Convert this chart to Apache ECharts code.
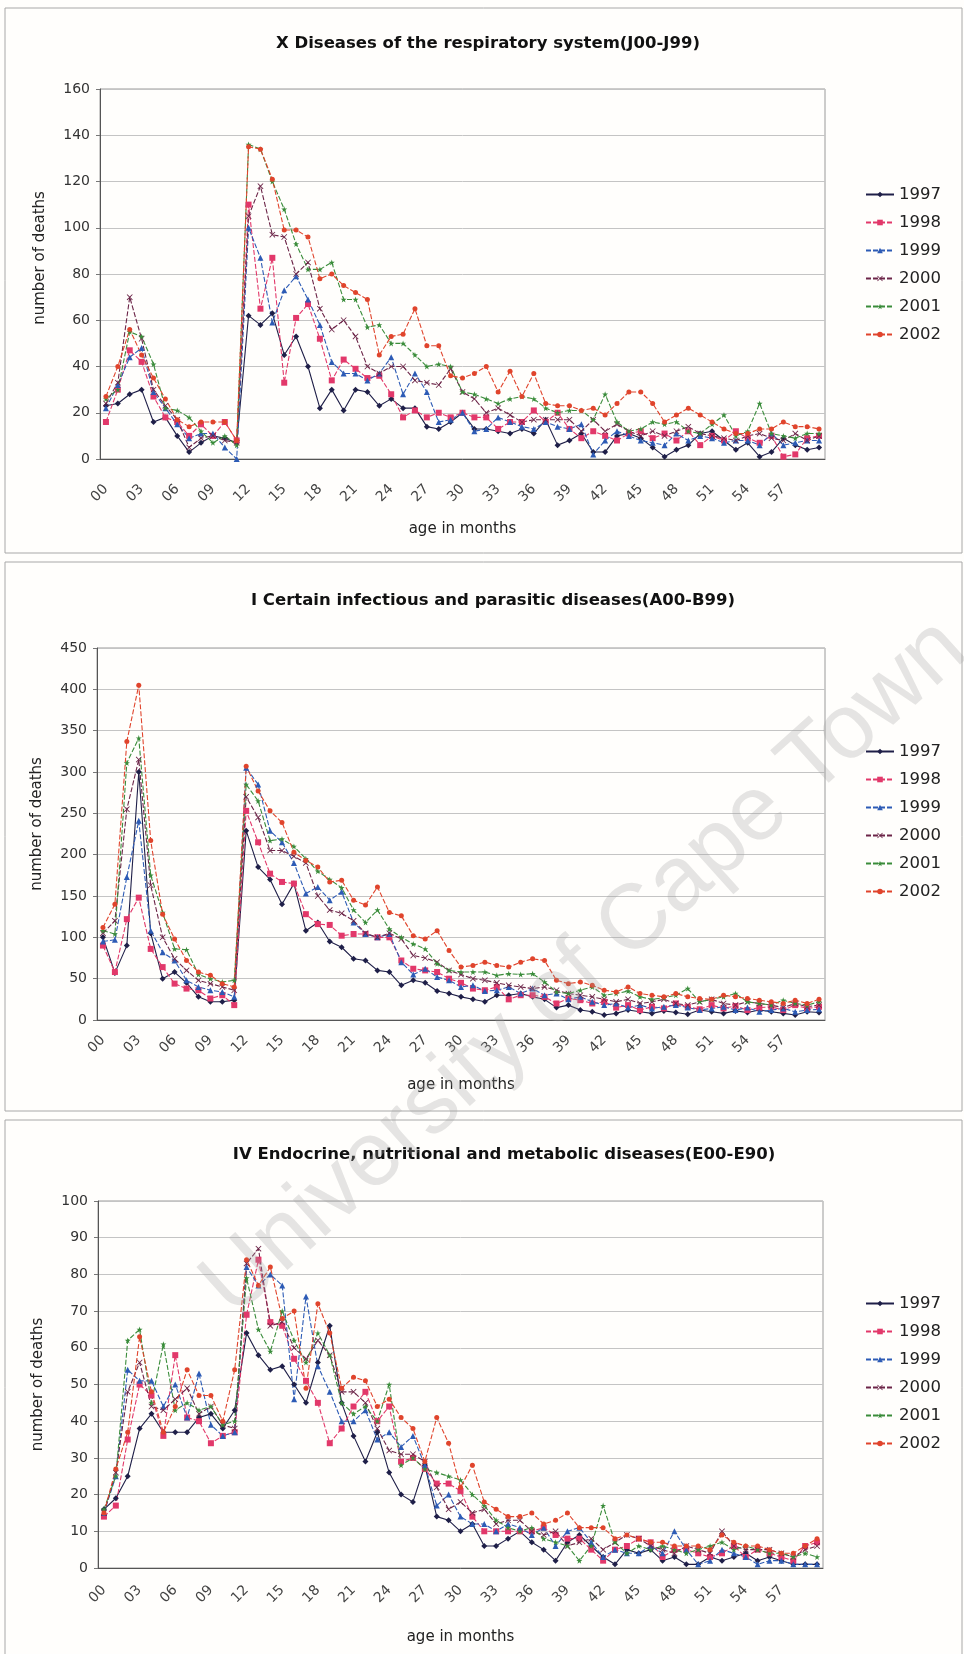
<!DOCTYPE html>
<html lang="en">
<head>
<meta charset="utf-8">
<title>Deaths by age in months</title>
<script src="https://cdn.jsdelivr.net/npm/echarts@6.0.0/dist/echarts.min.js"></script>
</head>
<body style="margin:0;background:#fffefc">
<div id="container" style="width:964px;height:1654px"></div>
<script type="text/javascript">

// age in months (category axis)
var months = ['00','01','02','03','04','05','06','07','08','09','10','11','12','13','14','15','16','17','18','19',
	'20','21','22','23','24','25','26','27','28','29','30','31','32','33','34','35','36','37','38','39',
	'40','41','42','43','44','45','46','47','48','49','50','51','52','53','54','55','56','57','58','59','60'];
var years = ['1997','1998','1999','2000','2001','2002'];

// X Diseases of the respiratory system
var resp1997 = [23,24,28,30,16,18,10,3,7,10,9,7,62,58,63,45,53,40,22,30,21,30,29,23,26,22,22,14,13,16,20,13,13,12,11,13,11,17,6,8,11,3,3,10,11,9,5,1,4,6,11,12,8,4,7,1,3,9,6,4,5];
var resp1998 = [16,30,47,42,27,18,16,10,15,10,16,8,110,65,87,33,61,67,52,34,43,39,35,36,28,18,21,18,20,18,20,18,18,13,16,16,21,16,20,13,9,12,10,8,11,12,9,11,8,12,6,10,8,12,9,7,10,1,2,9,10];
var resp1999 = [22,32,44,48,29,22,15,9,11,11,5,0,100,87,59,73,79,69,58,42,37,37,34,37,44,28,37,29,16,17,20,12,13,18,16,14,13,16,14,13,15,2,8,12,10,8,7,6,11,8,10,9,7,8,8,6,11,6,7,8,8];
var resp2000 = [24,33,70,52,30,23,17,5,9,10,8,7,105,118,97,96,80,85,65,56,60,53,40,37,40,40,34,33,32,39,29,26,20,22,19,16,17,17,17,17,12,17,12,15,12,10,12,10,12,14,11,10,9,8,10,11,9,8,11,8,10];
var resp2001 = [26,30,55,53,41,22,21,18,12,7,10,6,136,134,120,108,93,82,82,85,69,69,57,58,50,50,45,40,41,40,29,28,26,24,26,27,26,22,20,21,21,17,28,16,12,13,16,15,16,12,11,15,19,10,12,24,11,10,9,11,11];
var resp2002 = [27,40,56,45,35,26,17,14,16,16,16,8,135,134,121,99,99,96,78,80,75,72,69,45,53,54,65,49,49,36,35,37,40,29,38,27,37,24,23,23,21,22,19,24,29,29,24,16,19,22,19,16,13,11,11,13,13,16,14,14,13];

// I Certain infectious and parasitic diseases
var inf1997 = [100,57,90,300,105,50,58,45,28,22,22,24,229,185,170,140,165,108,118,95,88,74,72,60,58,42,48,45,35,32,28,25,22,30,30,32,28,25,15,18,12,10,6,8,12,10,8,11,9,7,12,10,8,11,9,12,10,8,6,10,9];
var inf1998 = [90,58,122,148,86,64,44,38,36,26,30,18,253,215,177,167,165,128,116,115,102,104,104,100,100,72,62,60,58,50,45,38,36,40,25,30,30,28,20,26,24,20,22,15,18,12,16,14,20,16,13,18,14,17,12,15,16,12,18,14,16];
var inf1999 = [95,97,173,241,108,82,72,48,40,36,34,28,305,285,229,215,190,153,161,145,155,118,104,100,104,70,55,62,52,48,40,42,35,36,40,32,38,30,32,25,28,22,18,20,15,18,14,16,18,15,12,14,16,12,15,10,12,14,10,12,13];
var inf2000 = [105,120,255,315,163,100,74,60,48,44,40,36,270,245,205,205,198,190,150,133,129,120,105,100,105,98,78,75,70,60,55,50,48,45,42,40,38,40,36,32,30,28,25,22,25,20,22,25,20,18,22,25,20,18,22,20,18,15,20,16,18];
var inf2001 = [108,104,311,341,175,130,86,85,55,50,46,48,285,265,217,219,210,195,180,170,160,133,118,133,110,100,92,86,68,60,58,58,58,54,56,55,56,46,34,32,36,40,30,32,35,28,25,27,30,38,22,25,28,32,22,20,18,24,20,18,22];
var inf2002 = [112,140,337,405,217,128,98,72,58,54,44,40,307,277,253,239,203,193,185,167,169,145,139,161,130,126,102,98,108,84,64,66,70,66,64,70,74,72,48,44,46,42,36,34,40,32,30,28,32,28,26,25,30,28,26,24,22,20,24,20,25];

// IV Endocrine, nutritional and metabolic diseases
var endo1997 = [16,19,25,38,42,37,37,37,41,42,38,43,64,58,54,55,50,45,56,66,45,36,29,37,26,20,18,28,14,13,10,12,6,6,8,10,7,5,2,7,9,6,3,1,5,4,5,2,3,1,1,3,2,3,4,2,3,2,1,1,1];
var endo1998 = [14,17,35,50,47,36,58,41,40,34,36,37,69,84,67,66,57,51,45,34,38,44,48,40,44,29,30,27,23,23,21,14,10,10,10,10,10,11,9,8,8,5,2,5,6,8,7,3,5,5,4,3,4,6,3,5,4,3,2,6,7];
var endo1999 = [15,25,54,51,51,44,50,41,53,39,36,37,82,77,80,77,46,74,55,48,40,40,43,35,37,33,36,28,17,20,14,12,12,10,12,11,9,11,6,10,11,7,3,5,4,4,6,4,10,5,1,2,5,4,3,1,2,2,1,1,1];
var endo2000 = [15,26,48,56,44,43,46,49,42,44,39,38,83,87,66,67,60,57,62,58,48,48,45,38,32,31,31,29,22,16,18,15,16,12,13,13,10,9,10,6,7,8,5,7,9,8,6,5,4,6,5,4,10,6,5,5,5,4,3,5,6];
var endo2001 = [16,25,62,65,45,61,43,45,43,44,39,40,79,65,59,70,62,56,64,58,45,42,44,40,50,28,30,27,26,25,24,20,17,13,11,10,11,8,7,6,2,6,17,7,4,6,5,6,5,4,5,6,7,5,6,5,4,4,3,4,3];
var endo2002 = [15,27,37,63,48,37,44,54,47,47,40,54,84,77,82,68,70,49,72,64,49,52,51,44,46,41,38,29,41,34,22,28,18,16,14,14,15,12,13,15,11,11,11,8,9,8,7,7,6,6,6,5,9,7,6,6,5,4,4,6,8];

var titles = ['X Diseases of the respiratory system(J00-J99)',
	'I Certain infectious and parasitic diseases(A00-B99)',
	'IV Endocrine, nutritional and metabolic diseases(E00-E90)'];
var chartData = [
	[resp1997, resp1998, resp1999, resp2000, resp2001, resp2002],
	[inf1997, inf1998, inf1999, inf2000, inf2001, inf2002],
	[endo1997, endo1998, endo1999, endo2000, endo2001, endo2002]
];

// layout of the three panels (pixels)
var layout = [
	{left: 100, top: 89, width: 725, height: 370, max: 160, step: 20, titleX: 483, titleY: 30, legendTop: 181,
		labelMargin: 28, nameGap: 63, yShift: 32, box: [5, 8, 957, 545]},
	{left: 97, top: 648, width: 728, height: 372, max: 450, step: 50, titleX: 488, titleY: 587, legendTop: 738,
		labelMargin: 18, nameGap: 58, yShift: 20, box: [5, 562, 957, 549]},
	{left: 98, top: 1201, width: 725, height: 367, max: 100, step: 10, titleX: 499, titleY: 1141, legendTop: 1290,
		labelMargin: 20, nameGap: 62, yShift: 0, box: [5, 1120, 957, 560]}
];

var colors = ['#1f1f48', '#e2386a', '#2d5bb5', '#6c2548', '#3a8c3a', '#e0442c'];
var symbols = ['diamond', 'rect', 'triangle',
	'path://M0,1L1,0L5,4L9,0L10,1L6,5L10,9L9,10L5,6L1,10L0,9L4,5Z',
	'path://M5,0L6.2,3.8L10,3.8L7,6.2L8.1,10L5,7.6L1.9,10L3,6.2L0,3.8L3.8,3.8Z',
	'circle'];
var font = '"DejaVu Sans", Verdana, sans-serif';

var dom = document.getElementById('container');
var myChart = echarts.init(dom, null, {renderer: 'canvas'});

var option = {
	backgroundColor: '#fffefc',
	animation: false,
	title: [],
	legend: [],
	grid: [],
	xAxis: [],
	yAxis: [],
	series: [],
	graphic: []
};

for (var c = 0; c < 3; c++) {
	var L = layout[c];
	option.title.push({
		text: titles[c], left: L.titleX, top: L.titleY, textAlign: 'center',
		textStyle: {fontFamily: font, fontSize: 16.5, fontWeight: 'bold', color: '#111'}
	});
	option.legend.push({
		orient: 'vertical', left: 860, top: L.legendTop,
		itemWidth: 28, itemHeight: 7, itemGap: 11,
		textStyle: {fontFamily: font, fontSize: 16.5, color: '#222'},
		data: years
	});
	option.grid.push({
		left: L.left, top: L.top, width: L.width, height: L.height,
		show: true, borderColor: '#9a9a9a', borderWidth: 1, backgroundColor: 'transparent'
	});
	option.xAxis.push({
		type: 'category', gridIndex: c, data: months, boundaryGap: true,
		name: 'age in months', nameLocation: 'middle', nameGap: L.nameGap,
		nameTextStyle: {fontFamily: font, fontSize: 15, color: '#222'},
		axisLine: {lineStyle: {color: '#555'}},
		axisTick: {interval: 0, length: 4, lineStyle: {color: '#777'}},
		axisLabel: {
			rotate: 45, fontFamily: font, fontSize: 14, color: '#444', margin: L.labelMargin,
			interval: function (index) { return index % 3 === 0 && index <= 57; }
		},
		splitLine: {show: false}
	});
	option.yAxis.push({
		type: 'value', gridIndex: c, min: 0, max: L.max, interval: L.step,
		name: 'number of deaths', nameLocation: 'middle', nameGap: 52, nameRotate: 90,
		nameTextStyle: {fontFamily: font, fontSize: 15, color: '#222', padding: [0, 0, 0, L.yShift]},
		axisLine: {show: true, lineStyle: {color: '#555'}},
		axisTick: {show: true, length: 4, lineStyle: {color: '#777'}},
		axisLabel: {fontFamily: font, fontSize: 14, color: '#333', margin: 10},
		splitLine: {lineStyle: {color: '#c4c4c4', width: 1}}
	});
	for (var s = 0; s < 6; s++) {
		option.series.push({
			name: years[s], type: 'line', xAxisIndex: c, yAxisIndex: c,
			data: chartData[c][s],
			symbol: symbols[s], symbolSize: s === 5 ? 5 : 6,
			lineStyle: {width: 1.1, color: colors[s], type: s === 0 ? 'solid' : [5, 2]},
			itemStyle: {color: colors[s]}
		});
	}
	option.graphic.push({
		type: 'rect', shape: {x: L.box[0], y: L.box[1], width: L.box[2], height: L.box[3]},
		style: {fill: 'none', stroke: '#a8a8a8', lineWidth: 1}, z: -1
	});
}

// scanned-thesis watermark
option.graphic.push({
	type: 'text', x: 585, y: 968, rotation: 42 * Math.PI / 180, z: 100,
	style: {
		text: 'University of Cape Town', fontFamily: '"Liberation Sans", Arial, sans-serif', fontSize: 92,
		fill: 'rgba(160,160,160,0.28)', align: 'center', verticalAlign: 'middle'
	}
});

myChart.setOption(option);
window.addEventListener('resize', myChart.resize);
</script>
</body>
</html>
